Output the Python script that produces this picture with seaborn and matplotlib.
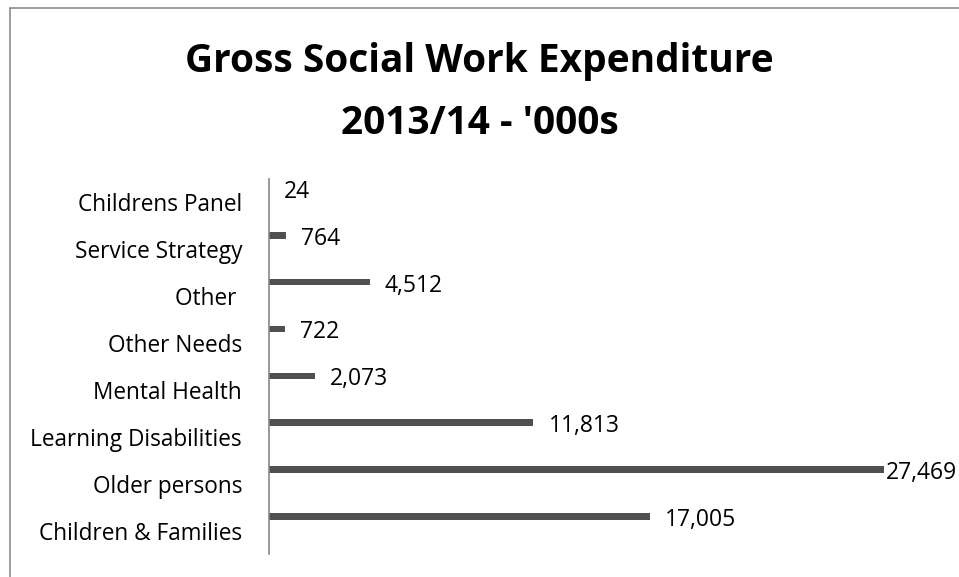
import matplotlib
matplotlib.use("Agg")
import matplotlib.pyplot as plt
import seaborn as sns
import numpy as np
import pandas as pd
from matplotlib.lines import Line2D

categories = ["Childrens Panel", "Service Strategy", "Other ", "Other Needs",
              "Mental Health", "Learning Disabilities", "Older persons",
              "Children & Families"]
values = [24, 764, 4512, 722, 2073, 11813, 27469, 17005]
value_labels = ["24", "764", "4,512", "722", "2,073", "11,813", "27,469", "17,005"]
title_lines = ["Gross Social Work Expenditure", "2013/14 - '000s"]

sns.set_theme(style="white")
plt.rcParams['font.family'] = ['Open Sans', 'DejaVu Sans']

W, H = 959, 577
fig = plt.figure(figsize=(W / 100, H / 100), dpi=100)
fig.patch.set_facecolor("white")

ax_left = 268.5 / W
ax_top_px, ax_bot_px = 179, 554
ax = fig.add_axes([ax_left, (H - ax_bot_px) / H, (941 - 268.5) / W, (ax_bot_px - ax_top_px) / H])

df = pd.DataFrame({"category": categories, "value": values})
sns.barplot(data=df, x="value", y="category", orient="h", color="#505050",
            width=0.14, saturation=1, ax=ax, edgecolor="none")

n = len(categories)
ax.set_xlim(0, 30000)
ax.set_ylim(n - 0.5 + 0.3, -0.5 + 0.3)
ax.set_yticks(np.arange(n) + 0.3)
ax.set_yticklabels(categories, fontsize=16.3, color="#000000")
ax.tick_params(axis="y", length=0, pad=19)
ax.set_xticks([])
ax.set_xlabel("")
ax.set_ylabel("")
for s in ["top", "right", "bottom"]:
    ax.spines[s].set_visible(False)
ax.spines["left"].set_color("#888888")
ax.spines["left"].set_linewidth(1.2)

vmax = max(values)
for i, (v, lab) in enumerate(zip(values, value_labels)):
    off = 1.5 if v == vmax else 11
    ax.annotate(lab, xy=(v, i), xytext=(off, -2.5), textcoords="offset points",
                ha="left", va="center", fontsize=16.5, color="#000000",
                annotation_clip=False)

for line, base_px in zip(title_lines, [72, 134]):
    fig.text(0.5, 1 - base_px / H, line, ha="center", va="baseline", fontsize=28,
             fontweight="bold", color="#000000")

# chart border (left and top edges visible)
fig.add_artist(Line2D([9.5 / W, 9.5 / W], [0, 1 - 8 / H], color="#8c8c8c", lw=1.2))
fig.add_artist(Line2D([9.5 / W, 1.0], [1 - 8 / H, 1 - 8 / H], color="#8c8c8c", lw=1.2))

fig.savefig("out.png", dpi=100, facecolor="white")
